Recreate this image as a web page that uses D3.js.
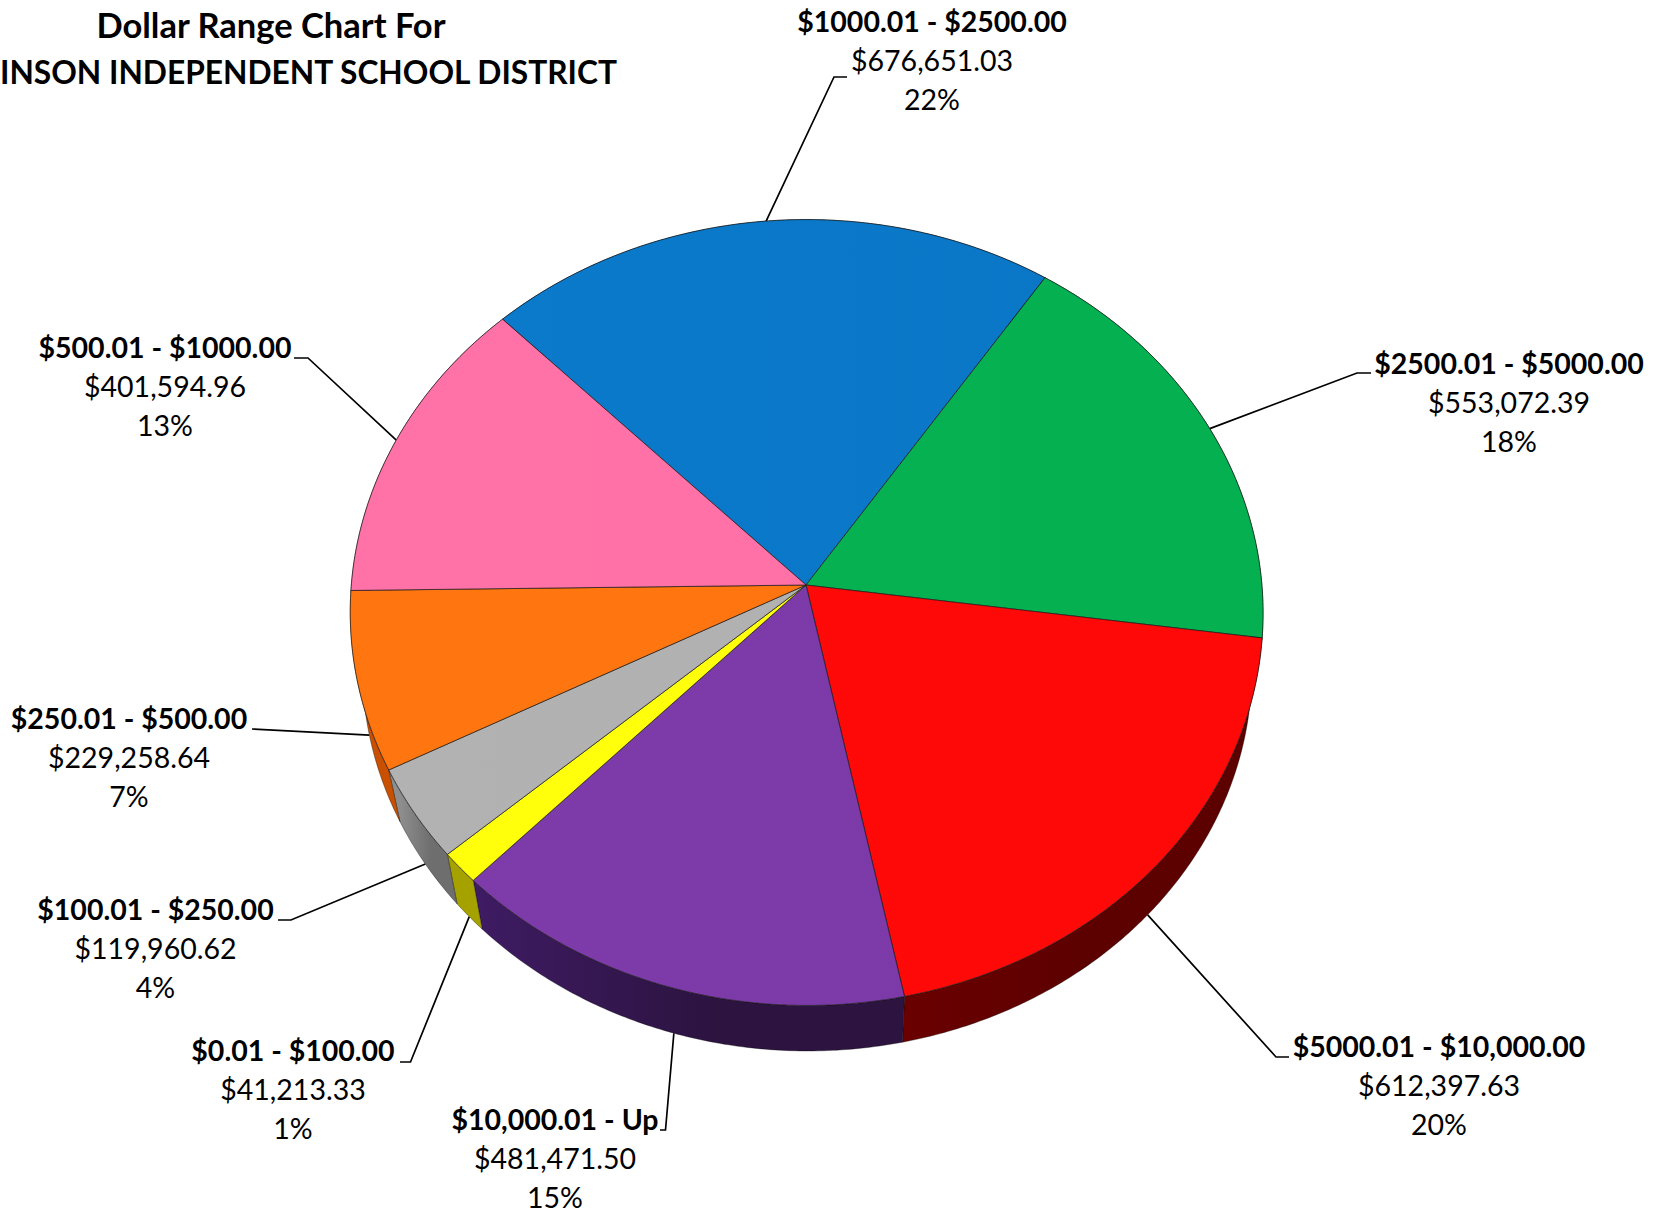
<!DOCTYPE html>
<html><head><meta charset="utf-8"><script src="https://cdn.jsdelivr.net/npm/d3@7"></script>
<style>html,body{margin:0;background:#fff}svg{display:block}text{font-family:Lato,sans-serif;fill:#000}</style></head><body>
<svg id="c" width="1659" height="1213"></svg>
<script>
// ---- data ----
const ranges=["$1000.01 - $2500.00","$2500.01 - $5000.00","$5000.01 - $10,000.00","$10,000.01 - Up","$0.01 - $100.00","$100.01 - $250.00","$250.01 - $500.00","$500.01 - $1000.00"];
const amounts=[676651.03,553072.39,612397.63,481471.50,41213.33,119960.62,229258.64,401594.96];
const percents=["22%","18%","20%","15%","1%","4%","7%","13%"];
const titleLines=["Dollar Range Chart For","INSON INDEPENDENT SCHOOL DISTRICT"];
// ---- styles ----
const faceColors=["#0a75c5","#05b050","#ff0808","#7a39a6","#ffff0a","#b0b0b0","#ff730f","#ff70a5"];
const faceEdge=["#0b7bcc","#06b252","#ff0909","#7e3cab","#ffff0c","#b2b2b2","#ff7610","#ff72a8"];
const wallLeft=["#04335a","#024f24","#6a0000","#3e1b62","#a5a200","#8e8e8e","#c85000","#8a3a5c"];
const wallRight=["#04335a","#024f24","#5c0000","#2c1340","#a5a200","#6e6e6e","#c85000","#8a3a5c"];
// ---- layout: label centre, first baseline, leader elbow, leader end, rim used ----
const labelX=[932,1509,1439,555,293,155.5,129,165];
const labelY=[32,374,1056.5,1129.5,1061,920,728.5,357.5];
const elbows=[[834,77],[1357,373],[1276,1057],[665.5,1130],[410.5,1062],[291,920],[252,729],[308,358]];
const leaderEnds=[[847,77],[1371,373],[1289,1057],[660,1130],[400,1062],[278,920],[252,729],[294,358]];
const leaderOnBase=[false,false,true,true,true,true,true,false];
const lineStep=39, labelSize=28.5;

// ---- projection of the pie plane onto the page ----
const apex=[806,585], H=[455.30,0.94,-0.32,391.01,-0.00131,-0.07002], startDir=-2.34484;
const vanish=[826,2790], depth=0.0255;
function topRim(angle){
  const th=angle+startDir,u=Math.cos(th),v=Math.sin(th),w=1+H[4]*u+H[5]*v;
  return [apex[0]+(H[0]*u+H[1]*v)/w, apex[1]+(H[2]*u+H[3]*v)/w];
}
function baseRim(angle){const p=topRim(angle);return [p[0]+depth*(vanish[0]-p[0]),p[1]+depth*(vanish[1]-p[1])];}
function rim(f,a0,a1){const n=Math.max(2,Math.ceil((a1-a0)/0.01));return d3.range(n+1).map(i=>f(a0+(a1-a0)*i/n));}

const arcs=d3.pie().sort(null)(amounts);
const svg=d3.select("#c"), defs=svg.append("defs"), line=d3.line();

arcs.forEach((d,i)=>{
  const xs=rim(baseRim,d.startAngle,d.endAngle).map(p=>p[0]);
  const g=defs.append("linearGradient").attr("id","w"+i).attr("gradientUnits","userSpaceOnUse")
    .attr("x1",d3.min(xs)).attr("x2",d3.max(xs)).attr("y1",0).attr("y2",0);
  g.append("stop").attr("offset",0).attr("stop-color",wallLeft[i]);
  g.append("stop").attr("offset",.55).attr("stop-color",wallRight[i]);
  const f=defs.append("linearGradient").attr("id","f"+i).attr("gradientUnits","userSpaceOnUse")
    .attr("x1",350).attr("x2",1266).attr("y1",0).attr("y2",0);
  f.append("stop").attr("offset",0).attr("stop-color",faceEdge[i]);
  f.append("stop").attr("offset",1).attr("stop-color",faceColors[i]);
});

// leaders sit under the pie
const leaders=svg.append("g").attr("fill","none").attr("stroke","#000").attr("stroke-width",1.7);
arcs.forEach((d,i)=>{
  const mid=(d.startAngle+d.endAngle)/2, s=(leaderOnBase[i]?baseRim:topRim)(mid);
  leaders.append("path").attr("d",line([s,elbows[i],leaderEnds[i]]));
});

// walls
svg.append("g").selectAll("path").data(arcs).join("path")
  .attr("d",d=>line(rim(topRim,d.startAngle,d.endAngle).concat(rim(baseRim,d.startAngle,d.endAngle).reverse()))+"Z")
  .attr("fill",(d,i)=>`url(#w${i})`).attr("stroke","#000").attr("stroke-opacity",.35).attr("stroke-width",1);

// top faces
svg.append("g").selectAll("path").data(arcs).join("path")
  .attr("d",d=>line([apex].concat(rim(topRim,d.startAngle,d.endAngle)))+"Z")
  .attr("fill",(d,i)=>`url(#f${i})`).attr("stroke","#1a1a1a").attr("stroke-opacity",.7).attr("stroke-width",1).attr("stroke-linejoin","round");

// labels
const labels=svg.append("g").attr("text-anchor","middle");
const money=d3.format("$,.2f");
ranges.forEach((r,i)=>{
  labels.append("text").attr("x",labelX[i]).attr("y",labelY[i]).attr("font-size",labelSize).attr("font-weight",700).text(r);
  labels.append("text").attr("x",labelX[i]).attr("y",labelY[i]+lineStep).attr("font-size",labelSize).text(money(amounts[i]));
  labels.append("text").attr("x",labelX[i]).attr("y",labelY[i]+2*lineStep).attr("font-size",labelSize).text(percents[i]);
});

// title
svg.append("text").attr("x",271).attr("y",37.5).attr("text-anchor","middle").attr("font-size",34.5).attr("font-weight",700).text(titleLines[0]);
svg.append("text").attr("x",0).attr("y",84).attr("font-size",33).attr("font-weight",700)
  .attr("textLength",617).attr("lengthAdjust","spacingAndGlyphs").text(titleLines[1]);
</script></body></html>
